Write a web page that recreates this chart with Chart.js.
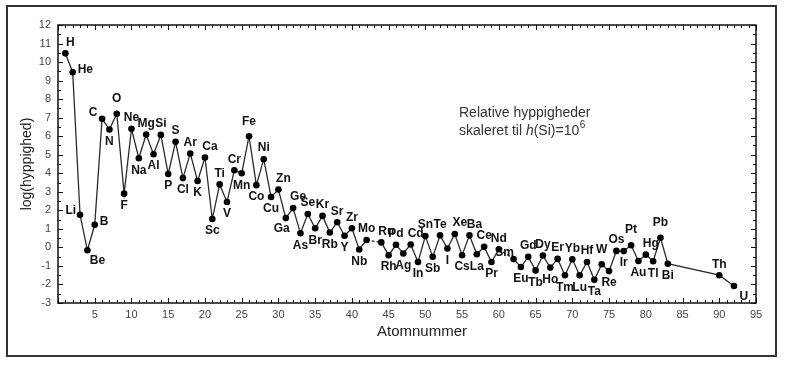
<!DOCTYPE html>
<html>
<head>
<meta charset="utf-8">
<script src="https://cdn.jsdelivr.net/npm/chart.js@4"></script>
<style>
  html, body { margin: 0; padding: 0; background: #fff; }
  #wrap { width: 786px; height: 365px; }
</style>
</head>
<body>
<div id="wrap"><canvas id="chart" width="786" height="365"></canvas></div>
<script>
// atomnumre, grundstoffer og log(hyppighed)
const atomnr = [1, 2, 3, 4, 5, 6, 7, 8, 9, 10, 11, 12, 13, 14, 15, 16, 17, 18, 19, 20,
  21, 22, 23, 24, 25, 26, 27, 28, 29, 30, 31, 32, 33, 34, 35, 36, 37, 38, 39, 40,
  41, 42, 44, 45, 46, 47, 48, 49, 50, 51, 52, 53, 54, 55, 56, 57, 58, 59, 60,
  62, 63, 64, 65, 66, 67, 68, 69, 70, 71, 72, 73, 74, 75, 76, 77, 78, 79, 80,
  81, 82, 83, 90, 92];
const symboler = ['H', 'He', 'Li', 'Be', 'B', 'C', 'N', 'O', 'F', 'Ne', 'Na', 'Mg', 'Al', 'Si', 'P', 'S', 'Cl', 'Ar', 'K', 'Ca',
  'Sc', 'Ti', 'V', 'Cr', 'Mn', 'Fe', 'Co', 'Ni', 'Cu', 'Zn', 'Ga', 'Ge', 'As', 'Se', 'Br', 'Kr', 'Rb', 'Sr', 'Y', 'Zr',
  'Nb', 'Mo', 'Ru', 'Rh', 'Pd', 'Ag', 'Cd', 'In', 'Sn', 'Sb', 'Te', 'I', 'Xe', 'Cs', 'Ba', 'La', 'Ce', 'Pr', 'Nd',
  'Sm', 'Eu', 'Gd', 'Tb', 'Dy', 'Ho', 'Er', 'Tm', 'Yb', 'Lu', 'Hf', 'Ta', 'W', 'Re', 'Os', 'Ir', 'Pt', 'Au', 'Hg',
  'Tl', 'Pb', 'Bi', 'Th', 'U'];
const logH = [10.47, 9.45, 1.76, -0.15, 1.22, 6.94, 6.36, 7.21, 2.9, 6.4, 4.81, 6.09, 5.03, 6.07, 3.96, 5.7, 3.74, 5.07, 3.58, 4.85,
  1.53, 3.4, 2.45, 4.16, 4.0, 6.0, 3.36, 4.76, 2.72, 3.12, 1.58, 2.12, 0.76, 1.8, 1.03, 1.7, 0.8, 1.36, 0.63, 1.03,
  -0.11, 0.4, 0.27, -0.42, 0.14, -0.33, 0.16, -0.79, 0.61, -0.51, 0.65, -0.06, 0.72, -0.42, 0.65, -0.37, 0.03, -0.79, -0.1,
  -0.63, -1.06, -0.51, -1.24, -0.44, -1.09, -0.62, -1.5, -0.64, -1.5, -0.79, -1.75, -0.91, -1.28, -0.19, -0.2, 0.12, -0.73, -0.39,
  -0.75, 0.52, -0.88, -1.5, -2.08];
// hvor etiketten sidder i forhold til punktet
const etiketPlacering = ['ar', 'r', 'l', 'br', 'r', 'al', 'b', 'A', 'b', 'a', 'b', 'a', 'b', 'a', 'b', 'a', 'b', 'a', 'b', 'ar',
  'b', 'a', 'b', 'a', 'b', 'A', 'b', 'a', 'b', 'ar', 'bl', 'ar', 'b', 'a', 'b', 'a', 'b', 'a', 'b', 'a',
  'b', 'a', 'ar', 'b', 'a', 'b', 'ar', 'b', 'a', 'b', 'a', 'b', 'ar', 'b', 'ar', 'b', 'a', 'b', 'a',
  'al', 'b', 'a', 'b', 'a', 'b', 'a', 'b', 'a', 'b', 'a', 'b', 'A', 'b', 'a', 'b', 'A', 'b', 'ar',
  'b', 'A', 'b', 'a', 'br'];

const xTicks = [5, 10, 15, 20, 25, 30, 35, 40, 45, 50, 55, 60, 65, 70, 75, 80, 85, 90, 95];
const yTicks = [-3, -2, -1, 0, 1, 2, 3, 4, 5, 6, 7, 8, 9, 10, 11, 12];

const punkter = atomnr.map((z, i) => ({ x: z, y: logH[i] }));

const forskydning = {
  a: [0, -11, 'center'], A: [0, -15, 'center'], b: [0, 12, 'center'],
  r: [5, -3, 'left'], l: [-4, -4, 'right'],
  ar: [5, -11, 'center'], al: [-9, -6, 'center'],
  br: [10, 11, 'center'], bl: [-4, 11, 'center']
};

const tegnEkstra = {
  id: 'tegnEkstra',
  beforeDraw(chart) {
    const c = chart.ctx;
    c.save();
    c.fillStyle = '#fff';
    c.fillRect(0, 0, chart.width, chart.height);
    c.restore();
  },
  afterDatasetsDraw(chart) {
    const c = chart.ctx;
    const a = chart.chartArea;
    const xs = chart.scales.x, ys = chart.scales.y;
    c.save();
    // akseramme
    c.strokeStyle = '#111';
    c.lineWidth = 1.5;
    c.strokeRect(a.left, a.top, a.right - a.left, a.bottom - a.top);
    // indadgående streger på alle fire sider
    c.lineWidth = 1;
    c.beginPath();
    for (let v = 0; v <= 95; v++) {
      const px = Math.round(xs.getPixelForValue(v)) + 0.5;
      const len = v % 5 === 0 ? 5 : 3;
      c.moveTo(px, a.bottom); c.lineTo(px, a.bottom - len);
      c.moveTo(px, a.top); c.lineTo(px, a.top + len);
    }
    for (let v = -3; v <= 12; v += 0.5) {
      const py = Math.round(ys.getPixelForValue(v)) + 0.5;
      const len = Number.isInteger(v) ? 5 : 3;
      c.moveTo(a.left, py); c.lineTo(a.left + len, py);
      c.moveTo(a.right, py); c.lineTo(a.right - len, py);
    }
    c.stroke();

    // grundstofetiketter
    const meta = chart.getDatasetMeta(0);
    c.fillStyle = '#111';
    c.font = 'bold 12px "Liberation Sans", Arial, sans-serif';
    c.textBaseline = 'middle';
    meta.data.forEach((p, i) => {
      const f = forskydning[etiketPlacering[i]];
      c.textAlign = f[2];
      c.fillText(symboler[i], p.x + f[0], p.y + f[1]);
    });

    // aksetitler
    c.fillStyle = '#222';
    c.font = '15px "Liberation Sans", Arial, sans-serif';
    c.textAlign = 'center';
    c.fillText('Atomnummer', 422, 332);
    c.save();
    c.translate(27, 164);
    c.rotate(-Math.PI / 2);
    c.font = '14px "Liberation Sans", Arial, sans-serif';
    c.fillText('log(hyppighed)', 0, 0);
    c.restore();

    // tekstboks
    c.font = '14px "Liberation Sans", Arial, sans-serif';
    c.textAlign = 'left';
    c.fillStyle = '#333';
    c.fillText('Relative hyppigheder', 459, 113);
    let x = 459;
    const del1 = 'skaleret til ';
    c.fillText(del1, x, 131); x += c.measureText(del1).width;
    c.font = 'italic 14px "Liberation Sans", Arial, sans-serif';
    c.fillText('h', x, 131); x += c.measureText('h').width;
    c.font = '14px "Liberation Sans", Arial, sans-serif';
    c.fillText('(Si)=10', x, 131); x += c.measureText('(Si)=10').width;
    c.font = '10px "Liberation Sans", Arial, sans-serif';
    c.fillText('6', x + 0.5, 125);

    // ydre ramme
    c.strokeStyle = '#333';
    c.lineWidth = 2;
    c.strokeRect(7, 6, 769, 350);
    c.restore();
  }
};

new Chart(document.getElementById('chart').getContext('2d'), {
  type: 'line',
  data: {
    datasets: [{
      data: punkter,
      borderColor: '#2a2a2a',
      borderWidth: 1.3,
      pointRadius: 3.3,
      pointBackgroundColor: '#000',
      pointBorderColor: '#000',
      pointBorderWidth: 0,
      tension: 0,
      segment: {
        // stiplet hvor et grundstof mangler (Tc, Pm)
        borderDash: ctx => (ctx.p1.parsed.x - ctx.p0.parsed.x === 2 && ctx.p0.parsed.x < 80 ? [3, 2] : undefined)
      }
    }]
  },
  options: {
    responsive: false,
    animation: false,
    events: [],
    layout: { padding: { top: 25, right: 30, left: 0, bottom: 0 } },
    plugins: { legend: { display: false }, tooltip: { enabled: false } },
    scales: {
      x: {
        type: 'linear', min: 0, max: 95,
        afterBuildTicks: s => { s.ticks = xTicks.map(v => ({ value: v })); },
        afterFit: s => { s.height = 62; },
        grid: { display: false, drawTicks: false },
        border: { display: false },
        ticks: { padding: 5, color: '#444', font: { size: 11, family: '"Liberation Sans", Arial, sans-serif' }, maxRotation: 0, autoSkip: false }
      },
      y: {
        min: -3, max: 12,
        afterBuildTicks: s => { s.ticks = yTicks.map(v => ({ value: v })); },
        afterFit: s => { s.width = 58; },
        grid: { display: false, drawTicks: false },
        border: { display: false },
        ticks: { padding: 7, color: '#444', font: { size: 11, family: '"Liberation Sans", Arial, sans-serif' }, autoSkip: false }
      }
    }
  },
  plugins: [tegnEkstra]
});
</script>
</body>
</html>
